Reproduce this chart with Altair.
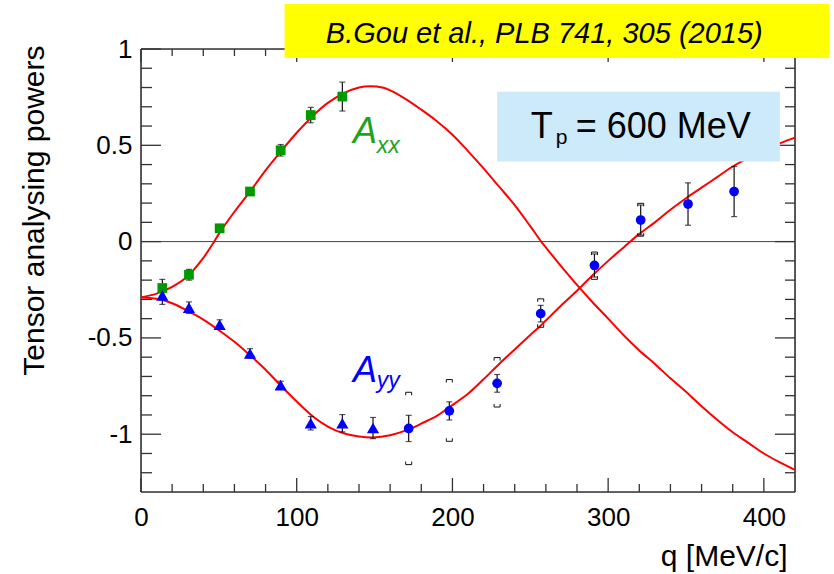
import altair as alt
import pandas as pd

# ---------------- data ----------------
# Model curves
axx_curve_q = [0, 10, 20, 30, 40, 47, 50, 60, 70, 80, 90, 100, 110, 120, 130, 140, 147, 155, 160, 170,
               180, 190, 200, 210, 220, 230, 240, 250, 257, 260, 270, 280, 290, 300, 310, 320, 330, 340,
               350, 360, 370, 380, 390, 400, 410, 420]
axx_curve_v = [-0.29, -0.27, -0.235, -0.18, -0.085, 0.0, 0.04, 0.155, 0.26, 0.37, 0.47, 0.565, 0.65, 0.72,
               0.77, 0.80, 0.807, 0.80, 0.785, 0.74, 0.685, 0.625, 0.555, 0.47, 0.38, 0.285, 0.19, 0.08,
               0.0, -0.03, -0.13, -0.225, -0.315, -0.40, -0.486, -0.565, -0.635, -0.71, -0.78, -0.855,
               -0.925, -0.99, -1.045, -1.10, -1.145, -1.185]

ayy_curve_q = [0, 10, 20, 30, 40, 50, 60, 70, 80, 90, 100, 110, 120, 130, 140, 149, 160, 172, 180, 190,
               198, 210, 220, 230, 240, 250, 257, 260, 270, 280, 290, 300, 310, 320, 330, 340, 350, 360,
               370, 380, 390, 400, 410, 420]
ayy_curve_v = [-0.29, -0.297, -0.32, -0.36, -0.405, -0.46, -0.52, -0.59, -0.665, -0.75, -0.83, -0.905,
               -0.96, -0.995, -1.012, -1.017, -1.005, -0.975, -0.945, -0.905, -0.86, -0.79, -0.715, -0.635,
               -0.56, -0.485, -0.434, -0.41, -0.33, -0.255, -0.175, -0.10, -0.03, 0.04, 0.10, 0.165, 0.225,
               0.28, 0.335, 0.39, 0.435, 0.475, 0.51, 0.54]

# Axx measurements (green squares)
axx_q = [13.7, 30.8, 50.5, 70.0, 89.7, 109.0, 129.3]
axx_val = [-0.241, -0.172, 0.069, 0.26, 0.474, 0.657, 0.753]
axx_err = [0.045, 0.028, 0.02, 0.02, 0.03, 0.04, 0.075]

# Ayy measurements (blue triangles)
ayy_tri_q = [13.7, 30.8, 50.5, 70.0, 89.7, 109.0, 129.3, 149.0]
ayy_tri_val = [-0.279, -0.343, -0.431, -0.581, -0.745, -0.943, -0.943, -0.968]
ayy_tri_err = [0.047, 0.03, 0.025, 0.025, 0.02, 0.035, 0.045, 0.055]

# Ayy measurements (blue circles)
ayy_circ_q = [171.9, 198.0, 228.7, 256.7, 291.2, 320.9, 351.3, 380.9]
ayy_circ_val = [-0.970, -0.879, -0.736, -0.374, -0.124, 0.112, 0.195, 0.26]
ayy_circ_err = [0.068, 0.047, 0.046, 0.043, 0.06, 0.078, 0.11, 0.13]

# systematic bands of the circles
sys_q = [171.9, 198.0, 228.7, 256.7, 291.2, 320.9]
sys_hi = [-0.79, -0.724, -0.610, -0.305, -0.062, 0.191]
sys_lo = [-1.15, -1.029, -0.851, -0.437, -0.188, 0.036]

# axis ticks / labels
x_major_ticks = [0, 100, 200, 300, 400]
x_minor_ticks = [20, 40, 60, 80, 120, 140, 160, 180, 220, 240, 260, 280, 320, 340, 360, 380]
y_major_ticks = [-1, -0.5, 0, 0.5, 1]
y_minor_ticks = [-1.2, -1.1, -0.9, -0.8, -0.7, -0.6, -0.4, -0.3, -0.2, -0.1,
                 0.1, 0.2, 0.3, 0.4, 0.6, 0.7, 0.8, 0.9]

# ---------------- tables ----------------
axx_curve = pd.DataFrame({"q": axx_curve_q, "v": axx_curve_v})
ayy_curve = pd.DataFrame({"q": ayy_curve_q, "v": ayy_curve_v})
axx_df = pd.DataFrame({"q": axx_q, "v": axx_val, "e": axx_err})
tri_df = pd.DataFrame({"q": ayy_tri_q, "v": ayy_tri_val, "e": ayy_tri_err})
circ_df = pd.DataFrame({"q": ayy_circ_q, "v": ayy_circ_val, "e": ayy_circ_err})
for d in (axx_df, tri_df, circ_df):
    d["lo"] = d["v"] - d["e"]
    d["hi"] = d["v"] + d["e"]
err_df = pd.concat([axx_df, tri_df, circ_df], ignore_index=True)
sys_df = pd.DataFrame({"q": sys_q, "hi": sys_hi, "lo": sys_lo})
xmaj = pd.DataFrame({"t": x_major_ticks})
xmin = pd.DataFrame({"t": x_minor_ticks})
ymaj = pd.DataFrame({"t": y_major_ticks})
ymin = pd.DataFrame({"t": y_minor_ticks})
one = pd.DataFrame({"k": [0]})

W, H = 654, 443
FONT = "Liberation Sans"
FRAME = "#333333"

xscale = alt.Scale(domain=[0, 420], nice=False, zero=False)
yscale = alt.Scale(domain=[-1.3, 1.0], nice=False, zero=False)

x_axis = alt.Axis(values=x_major_ticks, labelFontSize=26, labelFont=FONT, labelColor="#000000",
                  labelPadding=12, labelFlush=False, ticks=False, domain=False, grid=False,
                  title="q [MeV/c]", titleFont=FONT, titleFontSize=30, titleFontWeight="normal",
                  titleColor="#000000", titleAlign="right", titleAnchor="end",
                  titleBaseline="alphabetic", titleX=646, titleY=73, labelOverlap=False)
y_axis = alt.Axis(values=y_major_ticks, labelExpr="toString(datum.value)", labelFontSize=26,
                  labelFont=FONT, labelColor="#000000", labelPadding=9, labelFlush=False,
                  ticks=False, domain=False, grid=False,
                  title="Tensor analysing powers", titleFont=FONT, titleFontSize=30,
                  titleFontWeight="normal", titleColor="#000000", titleAngle=270,
                  titleAlign="right", titleBaseline="alphabetic", titleX=-98, titleY=-4,
                  labelOverlap=False)


def X(f):
    return alt.X(f, type="quantitative", scale=xscale, axis=x_axis)


def Y(f):
    return alt.Y(f, type="quantitative", scale=yscale, axis=y_axis)


layers = []

# zero line
layers.append(alt.Chart(one).mark_rule(color="#444444", strokeWidth=1).encode(y=alt.datum(0)))

# frame
layers.append(alt.Chart(one).mark_rule(color=FRAME, strokeWidth=1.6).encode(
    x=alt.value(0), y=alt.value(0), y2=alt.value(H)))
layers.append(alt.Chart(one).mark_rule(color=FRAME, strokeWidth=1.6).encode(
    x=alt.value(W), y=alt.value(0), y2=alt.value(H)))
layers.append(alt.Chart(one).mark_rule(color=FRAME, strokeWidth=1.6).encode(
    y=alt.value(0), x=alt.value(0), x2=alt.value(W)))
layers.append(alt.Chart(one).mark_rule(color=FRAME, strokeWidth=1.6).encode(
    y=alt.value(H), x=alt.value(0), x2=alt.value(W)))

# ticks (inside the frame)
tk = dict(color=FRAME, strokeWidth=1.3)
layers.append(alt.Chart(xmaj).mark_rule(**tk).encode(x=X("t"), y=alt.value(H), y2=alt.value(H - 14)))
layers.append(alt.Chart(xmin).mark_rule(**tk).encode(x=X("t"), y=alt.value(H), y2=alt.value(H - 8)))
layers.append(alt.Chart(xmaj).mark_rule(**tk).encode(x=X("t"), y=alt.value(0), y2=alt.value(13)))
layers.append(alt.Chart(xmin).mark_rule(**tk).encode(x=X("t"), y=alt.value(0), y2=alt.value(7)))
layers.append(alt.Chart(ymaj).mark_rule(**tk).encode(y=Y("t"), x=alt.value(0), x2=alt.value(20)))
layers.append(alt.Chart(ymin).mark_rule(**tk).encode(y=Y("t"), x=alt.value(0), x2=alt.value(11)))
layers.append(alt.Chart(ymaj).mark_rule(**tk).encode(y=Y("t"), x=alt.value(W), x2=alt.value(W - 20)))
layers.append(alt.Chart(ymin).mark_rule(**tk).encode(y=Y("t"), x=alt.value(W), x2=alt.value(W - 10)))

# curves
layers.append(alt.Chart(axx_curve).mark_line(color="#ff0000", strokeWidth=2, interpolate="catmull-rom").encode(
    x=X("q"), y=Y("v")))
layers.append(alt.Chart(ayy_curve).mark_line(color="#ff0000", strokeWidth=2, interpolate="catmull-rom").encode(
    x=X("q"), y=Y("v")))

# statistical error bars
eb = "#111111"
layers.append(alt.Chart(err_df).mark_rule(color=eb, strokeWidth=1.2).encode(
    x=X("q"), y=Y("lo"), y2=alt.Y2("hi")))
layers.append(alt.Chart(err_df).mark_tick(color=eb, orient="horizontal", size=6, thickness=1.2).encode(
    x=X("q"), y=Y("lo")))
layers.append(alt.Chart(err_df).mark_tick(color=eb, orient="horizontal", size=6, thickness=1.2).encode(
    x=X("q"), y=Y("hi")))

# systematic brackets
top_br = "M -1 0.5 L -1 -0.5 L 1 -0.5 L 1 0.5"
bot_br = "M -1 -0.5 L -1 0.5 L 1 0.5 L 1 -0.5"
layers.append(alt.Chart(sys_df).mark_point(shape=top_br, filled=False, size=36, color="#111111",
                                           strokeWidth=1, opacity=1).encode(x=X("q"), y=Y("hi")))
layers.append(alt.Chart(sys_df).mark_point(shape=bot_br, filled=False, size=36, color="#111111",
                                           strokeWidth=1, opacity=1).encode(x=X("q"), y=Y("lo")))

# markers
layers.append(alt.Chart(axx_df).mark_point(shape="square", filled=True, size=95, color="#009a00",
                                           opacity=1).encode(x=X("q"), y=Y("v")))
layers.append(alt.Chart(tri_df).mark_point(shape="triangle-up", filled=True, size=150, color="#0000ff",
                                           opacity=1).encode(x=X("q"), y=Y("v")))
layers.append(alt.Chart(circ_df).mark_point(shape="circle", filled=True, size=95, color="#0000ff",
                                            opacity=1).encode(x=X("q"), y=Y("v")))

# labels A_xx and A_yy
green_lbl = "#1fa31f"
layers.append(alt.Chart(one).mark_text(text="A", font=FONT, fontSize=36, fontStyle="italic",
                                       color=green_lbl, align="left", baseline="alphabetic").encode(
    x=alt.datum(136.2), y=alt.datum(0.514)))
layers.append(alt.Chart(one).mark_text(text="xx", font=FONT, fontSize=23, fontStyle="italic",
                                       color=green_lbl, align="left", baseline="alphabetic").encode(
    x=alt.datum(151.4), y=alt.datum(0.462)))
layers.append(alt.Chart(one).mark_text(text="A", font=FONT, fontSize=36, fontStyle="italic",
                                       color="#0000ff", align="left", baseline="alphabetic").encode(
    x=alt.datum(136.2), y=alt.datum(-0.727)))
layers.append(alt.Chart(one).mark_text(text="yy", font=FONT, fontSize=23, fontStyle="italic",
                                       color="#0000ff", align="left", baseline="alphabetic").encode(
    x=alt.datum(151.4), y=alt.datum(-0.758)))

# yellow reference box
layers.append(alt.Chart(one).mark_rect(color="#ffff00").encode(
    x=alt.datum(92.2), x2=alt.datum(441.8), y=alt.datum(1.234), y2=alt.datum(0.953)))
layers.append(alt.Chart(one).mark_text(text="B.Gou et al., PLB 741, 305 (2015)", font=FONT, fontSize=29,
                                       fontStyle="italic", color="#000000", align="center",
                                       baseline="alphabetic").encode(
    x=alt.datum(259.0), y=alt.datum(1.031)))

# light-blue energy box
layers.append(alt.Chart(one).mark_rect(color="#cdeafb").encode(
    x=alt.datum(228.7), x2=alt.datum(410.3), y=alt.datum(0.778), y2=alt.datum(0.416)))
layers.append(alt.Chart(one).mark_text(text="T", font=FONT, fontSize=36, color="#000000",
                                       align="left", baseline="alphabetic").encode(
    x=alt.datum(250.3), y=alt.datum(0.540)))
layers.append(alt.Chart(one).mark_text(text="p", font=FONT, fontSize=21, color="#000000",
                                       align="left", baseline="alphabetic").encode(
    x=alt.datum(266.4), y=alt.datum(0.505)))
layers.append(alt.Chart(one).mark_text(text="= 600 MeV", font=FONT, fontSize=36, color="#000000",
                                       align="left", baseline="alphabetic").encode(
    x=alt.datum(279.2), y=alt.datum(0.540)))

chart = alt.layer(*layers).properties(
    width=W, height=H,
    autosize=alt.AutoSizeParams(type="none"),
    padding={"left": 141, "top": 49, "right": 39, "bottom": 82},
).configure_view(stroke=None).configure(font=FONT, background="white")

chart.save("out.html", embed_options={"renderer": "svg", "actions": False})
